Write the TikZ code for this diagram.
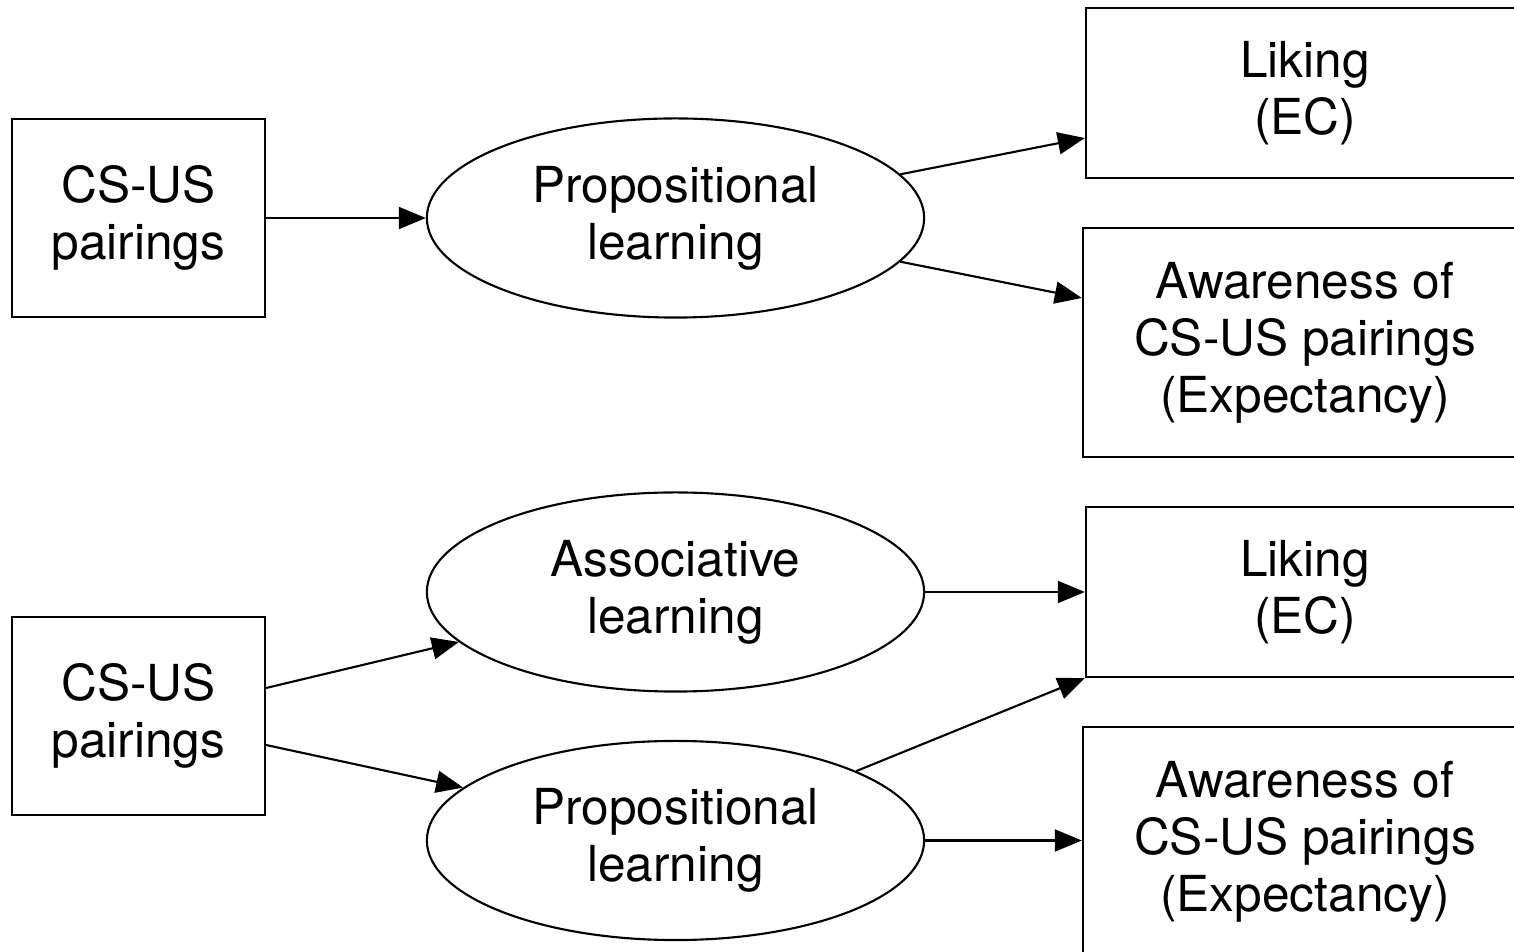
\documentclass[tikz,border=0pt]{standalone}
\usepackage{fontspec}
\setmainfont{TeX Gyre Heros}
\usetikzlibrary{shapes.geometric,arrows.meta}
\tikzset{
  sqbox/.style={draw=black,line width=0.6pt,rectangle,align=center,inner sep=0pt,
    font=\fontsize{14.1pt}{16.2pt}\selectfont},
  ovalnode/.style={draw=black,line width=0.6pt,ellipse,align=center,inner sep=0pt,
    minimum width=4.97cm,minimum height=1.99cm,font=\fontsize{14.1pt}{16.2pt}\selectfont},
  conn/.style={line width=0.6pt,-{Triangle[length=0.27cm,width=0.22cm]}}
}
\begin{document}
\begin{tikzpicture}[x=0.01cm,y=-0.01cm]
\useasboundingbox (0,0) rectangle (1514,952);
\clip (0,0) rectangle (1514,952);
\fill[white] (0,0) rectangle (1514,952);
% top diagram
\node[sqbox,minimum width=2.53cm,minimum height=1.98cm] (cs1) at (138.5,218) {CS-US\\pairings};
\node[ovalnode] (prop1) at (675.5,218) {Propositional\\learning};
\node[sqbox,minimum width=4.38cm,minimum height=1.70cm] (like1) at (1305,93) {Liking\\(EC)};
\node[sqbox,minimum width=4.44cm,minimum height=2.29cm] (aw1) at (1305,342.5) {Awareness of\\CS-US pairings\\(Expectancy)};
\draw[conn] (cs1.east) -- (prop1.west);
\draw[conn] (prop1.11) -- ([yshift=-0.45cm]like1.west);
\draw[conn] (prop1.-11) -- ([yshift=0.445cm]aw1.west);
% bottom diagram
\node[sqbox,minimum width=2.53cm,minimum height=1.98cm] (cs2) at (138.5,716) {CS-US\\pairings};
\node[ovalnode] (assoc) at (675.5,592) {Associative\\learning};
\node[ovalnode] (prop2) at (675.5,840.5) {Propositional\\learning};
\node[sqbox,minimum width=4.38cm,minimum height=1.70cm] (like2) at (1305,592) {Liking\\(EC)};
\node[sqbox,minimum width=4.44cm,minimum height=2.29cm] (aw2) at (1305,841.5) {Awareness of\\CS-US pairings\\(Expectancy)};
\draw[conn] ([yshift=0.28cm]cs2.east) -- (assoc.193.3);
\draw[conn] ([yshift=-0.29cm]cs2.east) -- (prop2.166.8);
\draw[conn] (assoc.east) -- (like2.west);
\draw[conn] (prop2.21) -- (like2.south west);
\draw[conn] (prop2.east) -- (prop2.east -| aw2.west);
\end{tikzpicture}
\end{document}
